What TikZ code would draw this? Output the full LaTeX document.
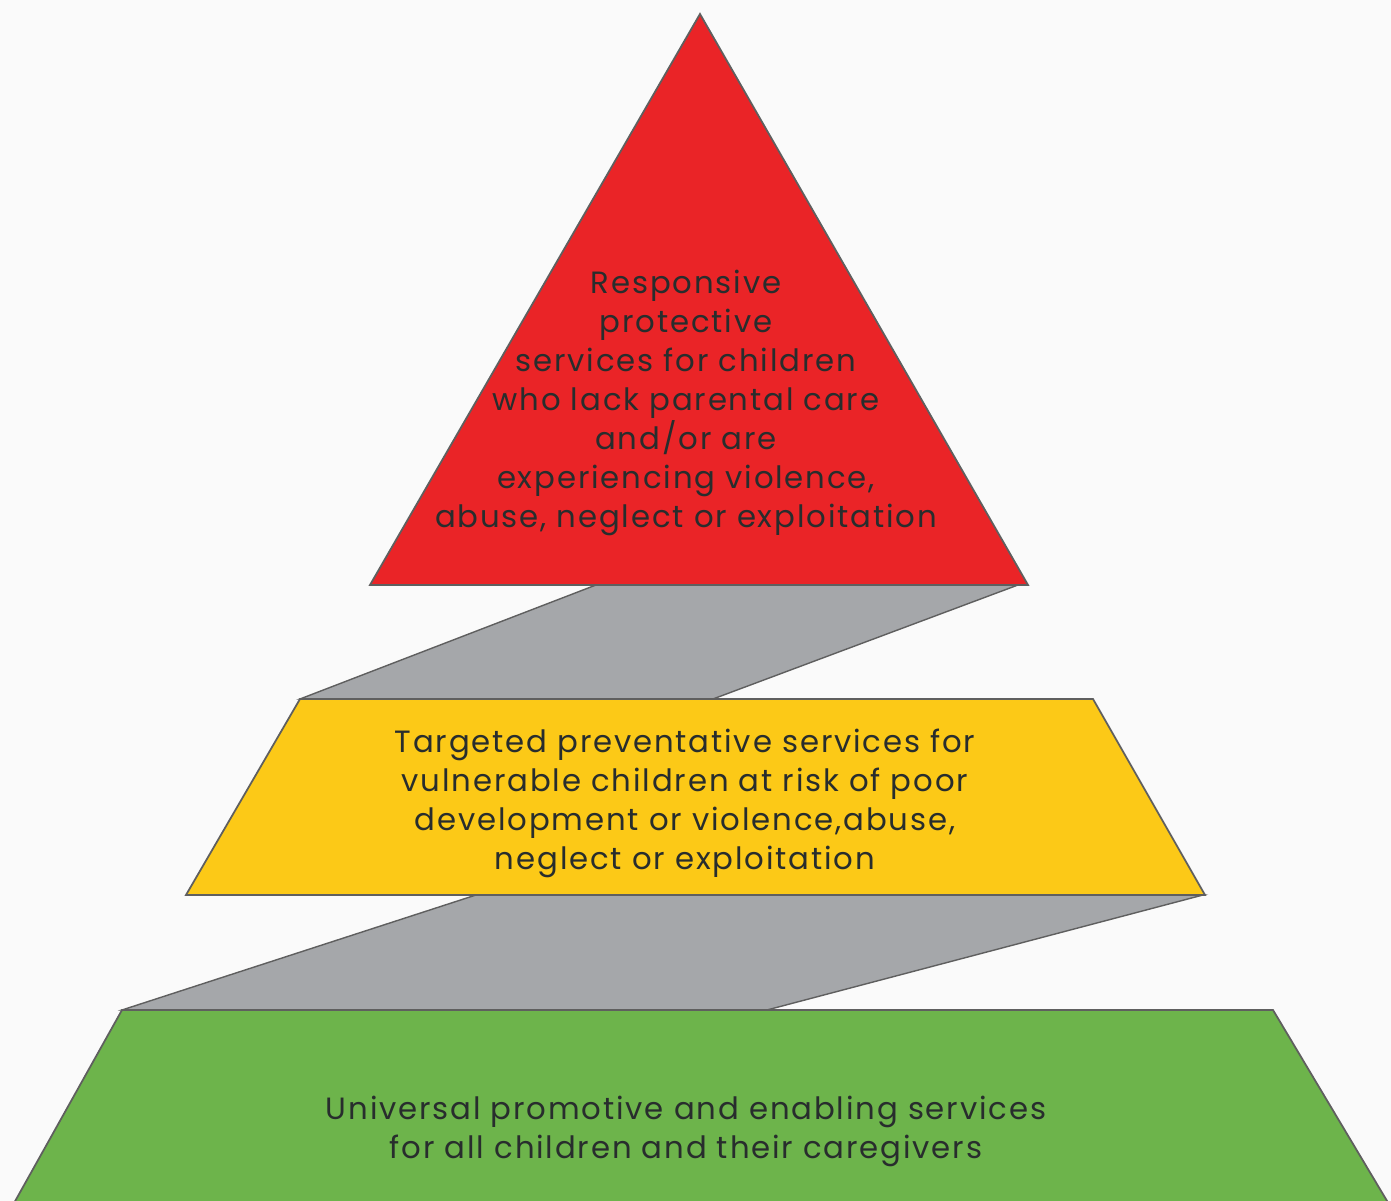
\documentclass[tikz,border=0pt]{standalone}
\usepackage{fontspec}
\setmainfont{Poppins}[LetterSpace=6]
\usetikzlibrary{positioning}

\definecolor{tierred}{RGB}{234,36,39}
\definecolor{tieryellow}{RGB}{252,201,23}
\definecolor{tiergreen}{RGB}{109,180,75}
\definecolor{stepgray}{RGB}{165,167,170}
\definecolor{edgegray}{RGB}{95,95,95}
\definecolor{inkdark}{RGB}{40,45,45}

\tikzset{
  tier/.style={draw=edgegray, line width=0.5pt, line join=miter},
  band/.style={draw=edgegray, line width=0.4pt, fill=stepgray},
  label/.style={align=center, text=inkdark, font=\fontsize{8.75}{11.1}\selectfont, inner sep=0pt}
}

\begin{document}
\begin{tikzpicture}
  \useasboundingbox (0,0) rectangle (13.91,12.01);
  \clip (0,0) rectangle (13.91,12.01);
  \fill[white!98!black] (0,0) rectangle (13.91,12.01);

  % grey steps behind the tiers
  \draw[band] (5.96,6.16) -- (10.18,6.16) -- (7.13,5.02) -- (3.00,5.02) -- cycle;
  \draw[band] (4.76,3.06) -- (12.03,3.06) -- (7.67,1.91) -- (1.22,1.91) -- cycle;

  % tiers
  \draw[tier, fill=tierred] (7.00,11.87) -- (10.28,6.16) -- (3.70,6.16) -- cycle;
  \draw[tier, fill=tieryellow] (3.00,5.02) -- (10.93,5.02) -- (12.05,3.06) -- (1.86,3.06) -- cycle;
  \draw[tier, fill=tiergreen] (1.22,1.91) -- (12.73,1.91) -- (13.99,-0.2) -- (0.04,-0.2) -- cycle;

  \node[label] at (6.86,7.98) (responsive) {Responsive\\ protective\\ services for children\\ who lack parental care\\ and/or are\\ experiencing violence,\\ abuse, neglect or exploitation};
  \node[label] at (6.85,3.98) (targeted) {Targeted preventative services for\\ vulnerable children at risk of poor\\ development or violence,abuse,\\ neglect or exploitation};
  \node[label] at (6.86,0.70) (universal) {Universal promotive and enabling services\\ for all children and their caregivers};
\end{tikzpicture}
\end{document}
